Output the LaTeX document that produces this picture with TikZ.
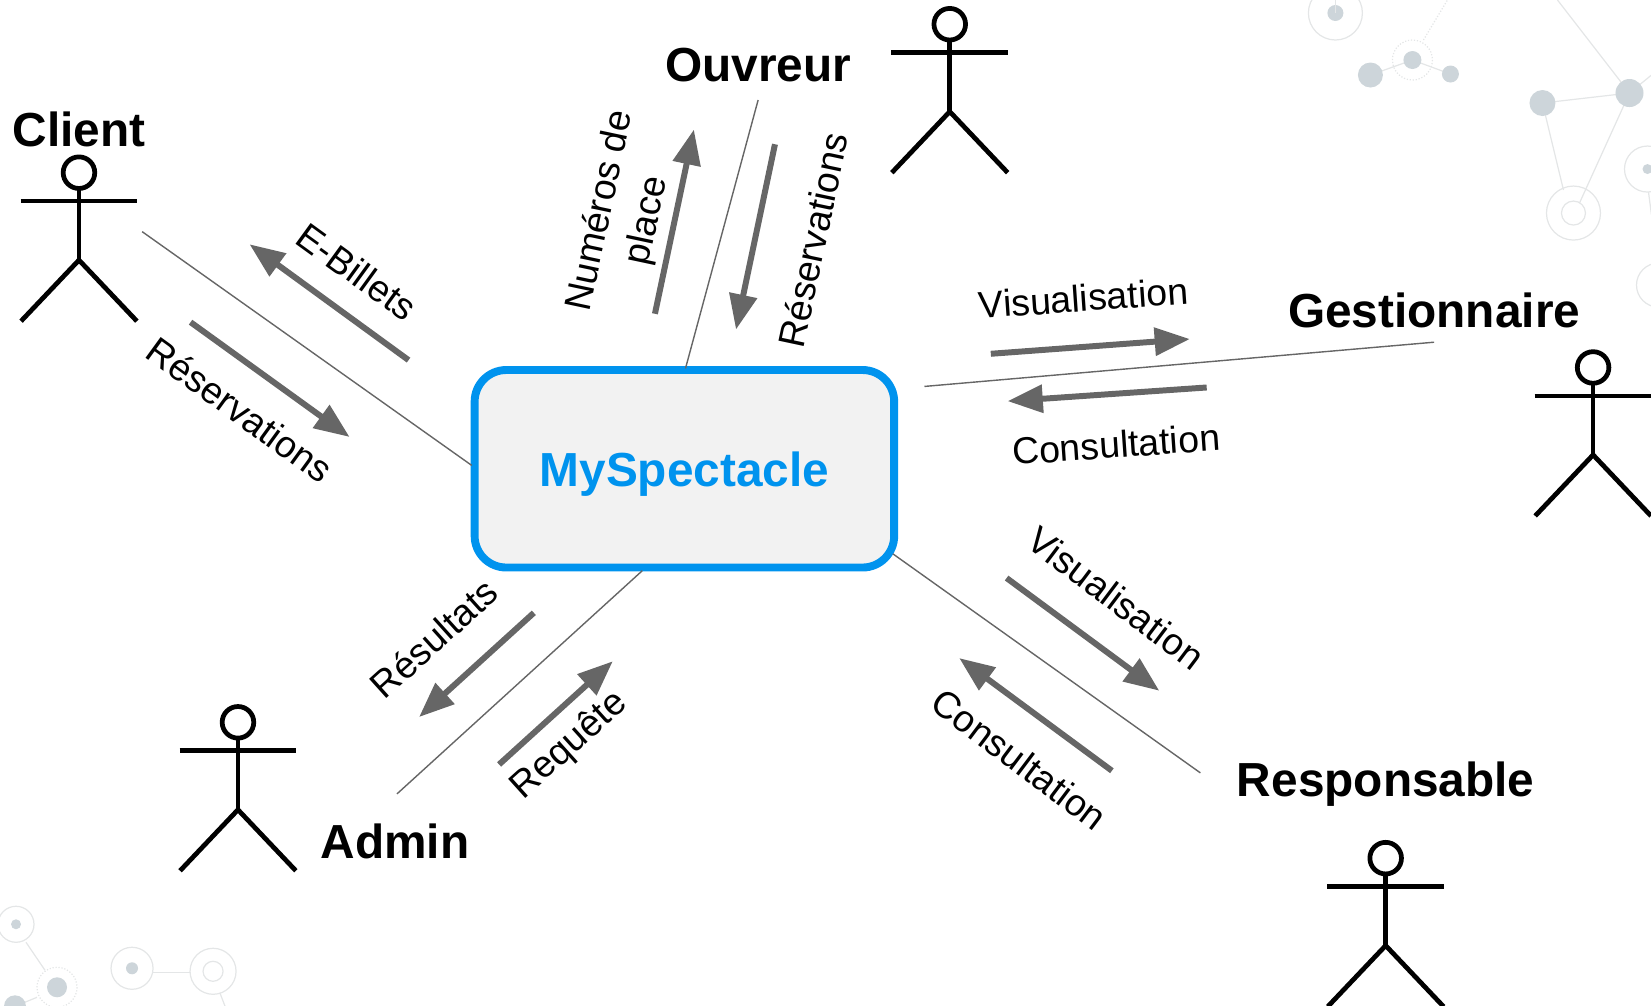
\documentclass[tikz,border=0pt]{standalone}
\usepackage{fontspec}
\setmainfont{Liberation Sans}
\usetikzlibrary{arrows.meta}
\definecolor{flowgrey}{HTML}{666666}
\definecolor{boxblue}{HTML}{0093EE}
\definecolor{boxfill}{HTML}{F2F2F2}
\definecolor{dotgrey}{HTML}{CDD5DA}
\definecolor{ringgrey}{HTML}{E4E6E7}
\tikzset{
  name label/.style={font=\fontsize{27.2}{30}\selectfont\bfseries,text=black,inner sep=0pt},
  flow label/.style={font=\fontsize{21.3}{27}\selectfont,text=black,inner sep=0pt,align=center},
  flow/.style={draw=flowgrey,line width=3.4pt,-{Triangle[length=20pt,width=15.5pt]}},
  link/.style={draw=flowgrey,line width=0.8pt},
  actor part/.style={draw=black,line width=2.7pt},
  ring/.style={draw=ringgrey,line width=0.7pt},
  bgdot/.style={fill=dotgrey,draw=none},
  pics/actor/.style={code={
    \draw[actor part,fill=white] (0,0) circle (15);
    \draw[actor part] (0,15) -- (0,83);
    \draw[actor part] (-55.5,27) -- (55.5,27);
    \draw[actor part] (-55,141) -- (0,83) -- (55,141);
  }}
}
\begin{document}
\begin{tikzpicture}[x=0.02106cm,y=-0.02106cm]
\useasboundingbox (0,0) rectangle (1568,955.4);
% background decoration (full-size pixels)
\begin{scope}[x=0.02cm,y=-0.02cm]
\clip (0,0) rectangle (1651,1006);
\draw[ring] (1335,13) circle (27);
\fill[bgdot] (1335,13) circle (8);
\draw[ring] (1335,0) -- (1335,13);
\draw[ring,densely dotted] (1423,40) -- (1447,0);
\draw[ring,densely dotted] (1412,60) circle (20);
\draw[ring] (1370,75) -- (1412,60) -- (1450,74);
\fill[bgdot] (1370,75) circle (12.5);
\fill[bgdot] (1412,60) circle (9);
\fill[bgdot] (1450,74) circle (8.5);
\draw[ring] (1557,0) -- (1629,93) -- (1651,75);
\draw[ring] (1542,103) -- (1629,93);
\draw[ring] (1542,103) -- (1563,190);
\draw[ring] (1629,93) -- (1579,203);
\fill[bgdot] (1542,103) circle (13);
\fill[bgdot] (1629,93) circle (14);
\draw[ring] (1573,213) circle (27);
\draw[ring] (1573,213) circle (12);
\draw[ring] (1647,169) circle (23);
\fill[bgdot] (1647,169) circle (5);
\draw[ring] (1648,192) -- (1651,215);
\draw[ring] (1658,285) circle (22);
\draw[ring] (16,924) circle (18);
\fill[bgdot] (16,924) circle (5);
\draw[ring] (26,942) -- (45,970);
\draw[ring,densely dotted] (57,987) circle (20);
\fill[bgdot] (57,987) circle (10);
\draw[ring] (37,997) -- (15,1006);
\fill[bgdot] (15,1006) circle (11);
\draw[ring] (132,968) circle (21);
\fill[bgdot] (132,968) circle (6);
\draw[ring] (153,972) -- (190,972);
\draw[ring] (213,971) circle (23);
\draw[ring] (213,971) circle (10);
\draw[ring] (220,993) -- (225,1006);
\end{scope}
% central box
\node[draw=boxblue,fill=boxfill,line width=4.5pt,rounded corners=18pt,minimum width=8.39cm,minimum height=3.95cm,inner sep=0pt] (sys) at (650,445.2) {};
\node[inner sep=0pt,text=boxblue,font=\fontsize{27.2}{30}\selectfont\bfseries] (sysname) at (650,450) {MySpectacle};
% name labels
\node[name label] (client) at (75,122.5) {Client};
\node[name label] (ouvreur) at (720,62) {Ouvreur};
\node[name label] (gest) at (1362,294.5) {Gestionnaire};
\node[name label] (resp) at (1316,745) {Responsable};
\node[name label] (admin) at (375,799) {Admin};
% actors
\path (75,164) pic {actor};
\path (902,23) pic {actor};
\path (1513,349) pic {actor};
\path (1316,815) pic {actor};
\path (226,686) pic {actor};
% thin links
\coordinate (lc) at (135,220); \coordinate (lcb) at (448,442);
\coordinate (lo) at (720,95); \coordinate (lob) at (651,350);
\coordinate (lg) at (1362,325); \coordinate (lgb) at (878,367);
\coordinate (lr) at (1140,734); \coordinate (lrb) at (848,526);
\coordinate (la) at (377,754); \coordinate (lab) at (610,542);
\draw[link] (lc) -- (lcb);
\draw[link] (lo) -- (lob);
\draw[link] (lg) -- (lgb);
\draw[link] (lr) -- (lrb);
\draw[link] (la) -- (lab);
% flow arrows
\coordinate (a1s) at (388,342); \coordinate (a1e) at (237,232);
\coordinate (a2s) at (181,306); \coordinate (a2e) at (332,415);
\coordinate (a3s) at (622,298); \coordinate (a3e) at (659,123);
\coordinate (a4s) at (736,137); \coordinate (a4e) at (699,313);
\coordinate (a5s) at (941,336); \coordinate (a5e) at (1130,322);
\coordinate (a6s) at (1146,368); \coordinate (a6e) at (957,381);
\coordinate (a7s) at (956,549); \coordinate (a7e) at (1101,656);
\coordinate (a8s) at (1056,732); \coordinate (a8e) at (911,625);
\coordinate (a9s) at (507,582); \coordinate (a9e) at (398,681);
\coordinate (a10s) at (474,726); \coordinate (a10e) at (582,628);
\foreach \n in {1,...,10} \draw[flow] (a\n s) -- (a\n e);
% flow labels
\node[flow label,rotate=-36] (t1) at (339,258) {E-Billets};
\node[flow label,rotate=-36] (t2) at (228,389) {Réservations};
\node[flow label,rotate=78] (t3) at (593,205) {Numéros de\\place};
\node[flow label,rotate=78] (t4) at (772,228) {Réservations};
\node[flow label,rotate=4] (t5) at (1029,283) {Visualisation};
\node[flow label,rotate=4] (t6) at (1060,422) {Consultation};
\node[flow label,rotate=-37] (t7) at (1060,568) {Visualisation};
\node[flow label,rotate=-37] (t8) at (968,721) {Consultation};
\node[flow label,rotate=42] (t9) at (412,606) {Résultats};
\node[flow label,rotate=42] (t10) at (541,708) {Requête};
\end{tikzpicture}
\end{document}
